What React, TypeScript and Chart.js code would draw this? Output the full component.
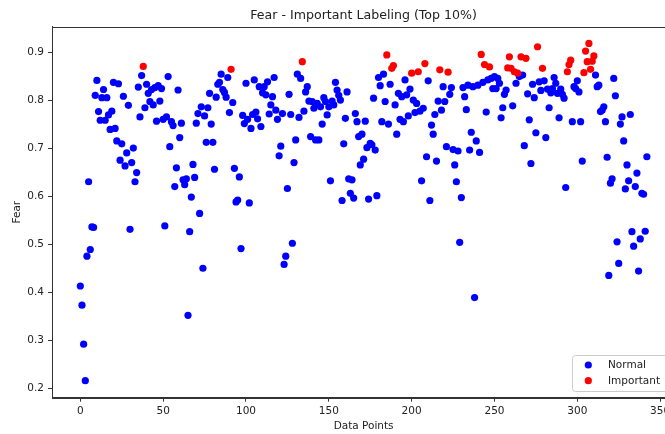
import React, { useEffect, useRef } from "react";
import { Chart, registerables } from "chart.js";

Chart.register(...registerables);

const titleText = "Fear - Important Labeling (Top 10%)";
const xAxisLabel = "Data Points";
const yAxisLabel = "Fear";
const seriesLabels = ["Normal", "Important"];
const seriesColors = ["#0000ff", "#ff0000"];
const xTicks = [0, 50, 100, 150, 200, 250, 300, 350];
const yTicks = [0.2, 0.3, 0.4, 0.5, 0.6, 0.7, 0.8, 0.9];

// Fear value per data point (index = x)
const fearValues = [
  0.413, 0.373, 0.292, 0.216, 0.475, 0.630, 0.489, 0.536, 0.535, 0.810,
  0.841, 0.776, 0.758, 0.805, 0.822, 0.758, 0.805, 0.769, 0.739, 0.777,
  0.837, 0.741, 0.715, 0.834, 0.675, 0.709, 0.808, 0.663, 0.690, 0.789,
  0.531, 0.670, 0.700, 0.630, 0.649, 0.827, 0.765, 0.851, 0.870, 0.784,
  0.833, 0.814, 0.797, 0.822, 0.790, 0.826, 0.756, 0.830, 0.798, 0.824,
  0.760, 0.538, 0.765, 0.849, 0.703, 0.755, 0.747, 0.620, 0.659, 0.821,
  0.722, 0.752, 0.634, 0.624, 0.636, 0.352, 0.526, 0.598, 0.666, 0.639,
  0.752, 0.772, 0.564, 0.786, 0.450, 0.767, 0.712, 0.784, 0.814, 0.750,
  0.712, 0.656, 0.806, 0.833, 0.837, 0.854, 0.822, 0.816, 0.806, 0.847,
  0.774, 0.864, 0.795, 0.658, 0.588, 0.592, 0.640, 0.491, 0.768, 0.751,
  0.835, 0.760, 0.586, 0.741, 0.770, 0.842, 0.775, 0.761, 0.828, 0.745,
  0.815, 0.828, 0.811, 0.838, 0.771, 0.790, 0.807, 0.847, 0.779, 0.760,
  0.684, 0.704, 0.772, 0.458, 0.475, 0.616, 0.812, 0.770, 0.502, 0.670,
  0.717, 0.854, 0.764, 0.845, 0.880, 0.777, 0.817, 0.828, 0.798, 0.724,
  0.797, 0.783, 0.717, 0.793, 0.717, 0.786, 0.750, 0.805, 0.797, 0.769,
  0.786, 0.632, 0.798, 0.790, 0.837, 0.821, 0.810, 0.800, 0.591, 0.709,
  0.762, 0.817, 0.636, 0.606, 0.634, 0.596, 0.772, 0.755, 0.724, 0.665,
  0.729, 0.677, 0.756, 0.701, 0.594, 0.710, 0.707, 0.804, 0.696, 0.601,
  0.847, 0.830, 0.755, 0.854, 0.797, 0.894, 0.750, 0.833, 0.866, 0.872,
  0.790, 0.729, 0.814, 0.760, 0.807, 0.755, 0.842, 0.811, 0.767, 0.823,
  0.856, 0.800, 0.774, 0.793, 0.859, 0.777, 0.632, 0.783, 0.876, 0.682,
  0.840, 0.591, 0.748, 0.729, 0.770, 0.673, 0.798, 0.863, 0.779, 0.828,
  0.797, 0.703, 0.858, 0.812, 0.826, 0.697, 0.665, 0.630, 0.694, 0.504,
  0.597, 0.826, 0.807, 0.780, 0.831, 0.696, 0.733, 0.828, 0.389, 0.715,
  0.831, 0.691, 0.895, 0.837, 0.874, 0.775, 0.842, 0.869, 0.845, 0.824,
  0.849, 0.824, 0.845, 0.835, 0.763, 0.784, 0.812, 0.821, 0.867, 0.890,
  0.866, 0.788, 0.859, 0.835, 0.856, 0.849, 0.890, 0.852, 0.705, 0.887,
  0.813, 0.759, 0.668, 0.833, 0.805, 0.732, 0.911, 0.838, 0.820, 0.866,
  0.840, 0.722, 0.823, 0.784, 0.815, 0.824, 0.847, 0.835, 0.814, 0.763,
  0.823, 0.812, 0.804, 0.618, 0.859, 0.874, 0.883, 0.755, 0.828, 0.824,
  0.840, 0.817, 0.755, 0.673, 0.857, 0.902, 0.880, 0.918, 0.864, 0.881,
  0.892, 0.852, 0.828, 0.831, 0.776, 0.779, 0.786, 0.755, 0.681, 0.435,
  0.627, 0.636, 0.845, 0.809, 0.505, 0.460, 0.750, 0.765, 0.715, 0.615,
  0.665, 0.632, 0.770, 0.526, 0.496, 0.620, 0.648, 0.444, 0.511, 0.606,
  0.604, 0.527, 0.682,
];

// indices labelled "Important" (top 10%)
const importantIndices = [
  38, 91, 134, 185, 188, 189, 200, 204, 208, 217, 222, 242, 244, 247, 258,
  259, 260, 262, 264, 266, 269, 276, 279, 294, 295, 296, 304, 305, 306, 307,
  308, 309, 310,
];

const FONT = "'DejaVu Sans', 'Liberation Sans', sans-serif";
const TEXT = "#222222";
const AXIS = "#333333";

export default function App() {
  const ref = useRef<HTMLCanvasElement | null>(null);

  useEffect(() => {
    document.body.style.margin = "0";
    const impSet = new Set(importantIndices);
    const normalPts: { x: number; y: number }[] = [];
    const importantPts: { x: number; y: number }[] = [];
    fearValues.forEach((v, i) => {
      (impSet.has(i) ? importantPts : normalPts).push({ x: i, y: v });
    });

    const framePlugin = {
      id: "frameAndLegend",
      afterDraw(chart: any) {
        const { ctx, chartArea } = chart;
        ctx.save();
        ctx.strokeStyle = AXIS;
        ctx.lineWidth = 1;
        ctx.strokeRect(
          Math.round(chartArea.left) + 0.5,
          Math.round(chartArea.top) + 0.5,
          Math.round(chartArea.right - chartArea.left),
          Math.round(chartArea.bottom - chartArea.top)
        );
        // legend (lower right, inside axes)
        const bx = 572.5;
        const by = 355.5;
        const bw = 130;
        const bh = 36;
        ctx.fillStyle = "rgba(255,255,255,0.8)";
        ctx.strokeStyle = "#cccccc";
        ctx.beginPath();
        if ((ctx as any).roundRect) (ctx as any).roundRect(bx, by, bw, bh, 3);
        else ctx.rect(bx, by, bw, bh);
        ctx.fill();
        ctx.stroke();
        ctx.font = `10.5px ${FONT}`;
        ctx.textBaseline = "middle";
        ctx.textAlign = "left";
        chart.data.datasets.forEach((ds: any, i: number) => {
          const cy = 365 + i * 15.7;
          ctx.fillStyle = ds.backgroundColor;
          ctx.beginPath();
          ctx.arc(588.3, cy, 3.6, 0, Math.PI * 2);
          ctx.fill();
          ctx.fillStyle = TEXT;
          ctx.fillText(ds.label, 608, cy + 0.5);
        });
        ctx.restore();
      },
    };

    const chart = new Chart(ref.current as HTMLCanvasElement, {
      type: "scatter",
      data: {
        datasets: [
          {
            label: seriesLabels[0],
            data: normalPts,
            backgroundColor: seriesColors[0],
            borderWidth: 0,
            pointRadius: 3.6,
            order: 2,
          },
          {
            label: seriesLabels[1],
            data: importantPts,
            backgroundColor: seriesColors[1],
            borderWidth: 0,
            pointRadius: 3.6,
            order: 1,
          },
        ],
      },
      options: {
        animation: false,
        responsive: false,
        layout: { padding: { left: 0, right: 24.8, top: 0, bottom: 0 } },
        plugins: {
          legend: { display: false },
          tooltip: { enabled: false },
          title: {
            display: true,
            text: titleText,
            fullSize: false,
            color: TEXT,
            font: { family: FONT, size: 12.6, weight: "normal" },
            padding: { top: 8, bottom: 3.6 },
          },
        },
        scales: {
          x: {
            type: "linear",
            min: -17.1,
            max: 359.1,
            afterBuildTicks: (s: any) => {
              s.ticks = xTicks.map((v) => ({ value: v }));
            },
            afterFit: (s: any) => {
              s.height = 36.3;
            },
            grid: { drawOnChartArea: false, drawTicks: true, tickLength: 4, color: AXIS },
            border: { display: true, color: AXIS },
            ticks: {
              color: TEXT,
              font: { family: FONT, size: 10.5 },
              padding: 3,
              maxRotation: 0,
              autoSkip: false,
              callback: (v: any) => String(v),
            },
            title: {
              display: true,
              text: xAxisLabel,
              color: TEXT,
              font: { family: FONT, size: 10.5 },
              padding: { top: 0, bottom: 1.8 },
            },
          },
          y: {
            type: "linear",
            min: 0.1805,
            max: 0.9527,
            afterBuildTicks: (s: any) => {
              s.ticks = yTicks.map((v) => ({ value: v }));
            },
            afterFit: (s: any) => {
              s.width = 52;
            },
            grid: { drawOnChartArea: false, drawTicks: true, tickLength: 4, color: AXIS },
            border: { display: true, color: AXIS },
            ticks: {
              color: TEXT,
              font: { family: FONT, size: 10.5 },
              padding: 4,
              autoSkip: false,
              callback: (v: any) => Number(v).toFixed(1),
            },
            title: {
              display: true,
              text: yAxisLabel,
              color: TEXT,
              font: { family: FONT, size: 10.5 },
              padding: { top: 10.5, bottom: 0 },
            },
          },
        },
      },
      plugins: [framePlugin],
    } as any);

    return () => chart.destroy();
  }, []);

  return (
    <div style={{ width: 665, height: 434, overflow: "hidden" }}>
      <canvas ref={ref} width={700} height={434} style={{ display: "block" }} />
    </div>
  );
}
